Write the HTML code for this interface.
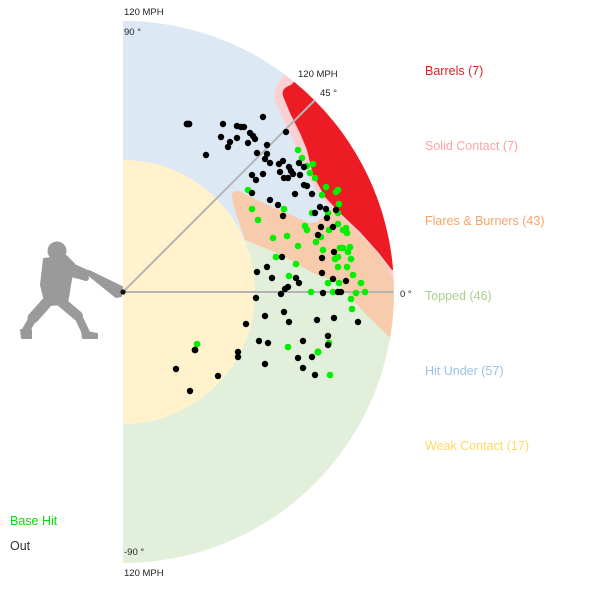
<!DOCTYPE html>
<html><head><meta charset="utf-8"><style>
html,body{margin:0;padding:0;background:#fff;}
svg{display:block;}
text{font-family:"Liberation Sans",Arial,sans-serif;}
</style></head><body>
<svg width="600" height="600" viewBox="0 0 600 600" xmlns="http://www.w3.org/2000/svg">
<defs>
<clipPath id="disc"><path d="M123,21 A271,271 0 0 1 123,563 Z"/></clipPath>
</defs>
<g clip-path="url(#disc)">
<rect x="123" y="21" width="280" height="545" fill="#e2efdb"/>
<path d="M123,292 L245,240 L300,243 L360,252 L400,262 L400,0 L123,0 Z" fill="#dce9f5"/>
<path d="M232,197 Q231,190 239,191 L253,198 L270,206 L287,213 L300,219 L310,223 L317,222 L323,217 L330,211 L336,206 L345,205 L365,225 L388,250 L400,262 L400,345 L388,336 L362,310 L337,282 L313,273 L287,258 L270,250 L245,240 L240,225 L234,207 Z" fill="#f8cbad"/>
<path d="M275,101 Q272,86 284,76 L290,66 L420,150 L420,291 L393,291 L393,280 L388,268 L375,250 L355,230 L335,212 L322,199 L310,180 L300,157 L292,137 L282,117 Z" fill="#fcd0d2"/>
<path d="M283,96 Q281,88 291,85 L300,76 L420,160 L420,270 L392,270 L378,252 L360,232 L342,215 L325,197 L313,175 L307,150 L300,133 L290,113 Z" fill="#ed1c24"/>
</g>
<path d="M123,160 A132,132 0 0 1 123,424 Z" fill="#fff2cc"/>
<line x1="123" y1="292" x2="393" y2="292" stroke="#b4b4b4" stroke-width="2"/>
<line x1="123" y1="292" x2="315" y2="100" stroke="#b4b4b4" stroke-width="2"/>

<!-- batter -->
<g fill="#9a9a9a" stroke="#9a9a9a" stroke-linecap="round" stroke-linejoin="round">
<circle cx="57" cy="251" r="9.5" stroke="none"/>
<path d="M44,259 L66,256 L74,264 L70,285 L67,304 L46,305 L41,285 Z" stroke-width="2"/>
<line x1="64" y1="263" x2="86" y2="273" stroke-width="7"/>
<line x1="58" y1="270" x2="86" y2="278" stroke-width="6"/>
<path d="M85,272 L89,271 L122,287 L121,296 L116,297 Z" stroke-width="2"/>
<line x1="49" y1="300" x2="33" y2="318" stroke-width="11"/>
<line x1="33" y1="318" x2="25" y2="332" stroke-width="8"/>
<path d="M21,330 L31,330 L31,338 L22,338 Z" stroke-width="2"/>
<line x1="59" y1="300" x2="78" y2="316" stroke-width="10"/>
<line x1="78" y1="316" x2="86" y2="333" stroke-width="8"/>
<path d="M82,331 L97,334 L97,338 L83,338 Z" stroke-width="2"/>
</g>
<circle cx="123" cy="292" r="2.6" fill="#111"/>

<!-- green dots (base hits) -->
<g fill="#00f000">
<circle cx="298" cy="150" r="3.3"/><circle cx="302" cy="158" r="3.3"/><circle cx="313" cy="164" r="3.3"/>
<circle cx="307" cy="166" r="3.3"/><circle cx="310" cy="173" r="3.3"/><circle cx="315" cy="178" r="3.3"/>
<circle cx="326" cy="187" r="3.3"/><circle cx="338" cy="190" r="3.3"/><circle cx="336" cy="192" r="3.3"/>
<circle cx="322" cy="195" r="3.3"/><circle cx="339" cy="204" r="3.3"/><circle cx="328" cy="213" r="3.3"/>
<circle cx="312" cy="213" r="3.3"/><circle cx="338" cy="213" r="3.3"/><circle cx="248" cy="190" r="3.3"/>
<circle cx="284" cy="209" r="3.3"/><circle cx="252" cy="209" r="3.3"/><circle cx="258" cy="220" r="3.3"/>
<circle cx="305" cy="226" r="3.3"/><circle cx="307" cy="230" r="3.3"/><circle cx="273" cy="238" r="3.3"/>
<circle cx="287" cy="236" r="3.3"/><circle cx="298" cy="246" r="3.3"/><circle cx="316" cy="242" r="3.3"/>
<circle cx="321" cy="237" r="3.3"/><circle cx="329" cy="230" r="3.3"/><circle cx="338" cy="224" r="3.3"/>
<circle cx="343" cy="230" r="3.3"/><circle cx="346" cy="228" r="3.3"/><circle cx="347" cy="233" r="3.3"/>
<circle cx="323" cy="250" r="3.3"/><circle cx="340" cy="248" r="3.3"/><circle cx="343" cy="248" r="3.3"/>
<circle cx="348" cy="252" r="3.3"/><circle cx="350" cy="247" r="3.3"/><circle cx="338" cy="257" r="3.3"/>
<circle cx="335" cy="259" r="3.3"/><circle cx="351" cy="259" r="3.3"/><circle cx="276" cy="257" r="3.3"/>
<circle cx="296" cy="264" r="3.3"/><circle cx="338" cy="267" r="3.3"/><circle cx="347" cy="267" r="3.3"/>
<circle cx="289" cy="276" r="3.3"/><circle cx="353" cy="275" r="3.3"/><circle cx="328" cy="283" r="3.3"/>
<circle cx="339" cy="283" r="3.3"/><circle cx="361" cy="283" r="3.3"/><circle cx="311" cy="292" r="3.3"/>
<circle cx="333" cy="292" r="3.3"/><circle cx="356" cy="293" r="3.3"/><circle cx="365" cy="292" r="3.3"/>
<circle cx="351" cy="299" r="3.3"/><circle cx="352" cy="309" r="3.3"/><circle cx="197" cy="344" r="3.3"/>
<circle cx="288" cy="347" r="3.3"/><circle cx="318" cy="352" r="3.6"/><circle cx="329" cy="343" r="3.3"/>
<circle cx="330" cy="375" r="3.3"/>
</g>

<!-- black dots (outs) -->
<g fill="#000">
<circle cx="187" cy="124" r="3.4"/><circle cx="189" cy="124" r="3.4"/><circle cx="223" cy="124" r="3.2"/>
<circle cx="263" cy="117" r="3.2"/><circle cx="237" cy="126" r="3.2"/><circle cx="241" cy="127" r="3.2"/>
<circle cx="244" cy="127" r="3.2"/><circle cx="221" cy="137" r="3.2"/><circle cx="230" cy="142" r="3.2"/>
<circle cx="228" cy="147" r="3.2"/><circle cx="237" cy="138" r="3.2"/><circle cx="250" cy="133" r="3.2"/>
<circle cx="253" cy="136" r="3.2"/><circle cx="255" cy="139" r="3.2"/><circle cx="248" cy="143" r="3.2"/>
<circle cx="286" cy="132" r="3.2"/><circle cx="267" cy="145" r="3.2"/><circle cx="206" cy="155" r="3.2"/>
<circle cx="257" cy="153" r="3.2"/><circle cx="267" cy="154" r="3.2"/><circle cx="265" cy="159" r="3.2"/>
<circle cx="270" cy="163" r="3.2"/><circle cx="279" cy="164" r="3.2"/><circle cx="283" cy="161" r="3.2"/>
<circle cx="289" cy="167" r="3.2"/><circle cx="291" cy="171" r="3.2"/><circle cx="280" cy="172" r="3.2"/>
<circle cx="293" cy="174" r="3.2"/><circle cx="299" cy="163" r="3.2"/><circle cx="304" cy="167" r="3.2"/>
<circle cx="300" cy="175" r="3.2"/><circle cx="284" cy="178" r="3.2"/><circle cx="288" cy="178" r="3.2"/>
<circle cx="263" cy="174" r="3.2"/><circle cx="252" cy="175" r="3.2"/><circle cx="256" cy="180" r="3.2"/>
<circle cx="304" cy="185" r="3.2"/><circle cx="307" cy="186" r="3.2"/><circle cx="295" cy="194" r="3.2"/>
<circle cx="312" cy="194" r="3.2"/><circle cx="252" cy="193" r="3.2"/><circle cx="270" cy="200" r="3.2"/>
<circle cx="278" cy="205" r="3.2"/><circle cx="283" cy="216" r="3.2"/><circle cx="320" cy="207" r="3.2"/>
<circle cx="326" cy="209" r="3.2"/><circle cx="336" cy="210" r="3.2"/><circle cx="315" cy="213" r="3.2"/>
<circle cx="327" cy="218" r="3.2"/><circle cx="321" cy="227" r="3.2"/><circle cx="333" cy="227" r="3.2"/>
<circle cx="318" cy="235" r="3.2"/><circle cx="334" cy="252" r="3.2"/><circle cx="322" cy="258" r="3.2"/>
<circle cx="282" cy="257" r="3.2"/><circle cx="267" cy="267" r="3.2"/><circle cx="257" cy="272" r="3.2"/>
<circle cx="272" cy="278" r="3.2"/><circle cx="296" cy="278" r="3.2"/><circle cx="299" cy="283" r="3.2"/>
<circle cx="288" cy="287" r="3.2"/><circle cx="285" cy="289" r="3.2"/><circle cx="322" cy="273" r="3.2"/>
<circle cx="333" cy="279" r="3.2"/><circle cx="346" cy="281" r="3.2"/><circle cx="338" cy="292" r="3.2"/>
<circle cx="341" cy="292" r="3.2"/><circle cx="323" cy="293" r="3.2"/><circle cx="281" cy="294" r="3.2"/>
<circle cx="256" cy="298" r="3.2"/><circle cx="246" cy="324" r="3.2"/><circle cx="265" cy="316" r="3.2"/>
<circle cx="284" cy="312" r="3.2"/><circle cx="289" cy="322" r="3.2"/><circle cx="317" cy="320" r="3.2"/>
<circle cx="334" cy="318" r="3.2"/><circle cx="358" cy="322" r="3.2"/><circle cx="328" cy="336" r="3.2"/>
<circle cx="328" cy="345" r="3.2"/><circle cx="303" cy="341" r="3.2"/><circle cx="259" cy="341" r="3.2"/>
<circle cx="268" cy="343" r="3.2"/><circle cx="195" cy="350" r="3.4"/><circle cx="238" cy="352" r="3.2"/>
<circle cx="238" cy="357" r="3.2"/><circle cx="265" cy="364" r="3.2"/><circle cx="298" cy="358" r="3.2"/>
<circle cx="312" cy="357" r="3.2"/><circle cx="303" cy="368" r="3.2"/><circle cx="315" cy="375" r="3.2"/>
<circle cx="176" cy="369" r="3.2"/><circle cx="218" cy="376" r="3.2"/><circle cx="190" cy="391" r="3.2"/>
</g>

<!-- axis labels -->
<g font-size="9.5" fill="#222">
<text x="124" y="15">120 MPH</text>
<text x="124" y="35">90 °</text>
<text x="298" y="77">120 MPH</text>
<text x="320" y="96">45 °</text>
<text x="400" y="297">0 °</text>
<text x="124" y="555">-90 °</text>
<text x="124" y="576">120 MPH</text>
</g>

<!-- legend -->
<g font-size="12.5">
<text x="425" y="75" fill="#ed1c24">Barrels (7)</text>
<text x="425" y="150" fill="#fba5a5">Solid Contact (7)</text>
<text x="425" y="225" fill="#f4a46a">Flares &amp; Burners (43)</text>
<text x="425" y="300" fill="#a9d18e">Topped (46)</text>
<text x="425" y="375" fill="#9dc3e6">Hit Under (57)</text>
<text x="425" y="450" fill="#ffd966">Weak Contact (17)</text>
</g>
<g font-size="12.5">
<text x="10" y="525" fill="#00e000">Base Hit</text>
<text x="10" y="550" fill="#333">Out</text>
</g>
</svg>
</body></html>
